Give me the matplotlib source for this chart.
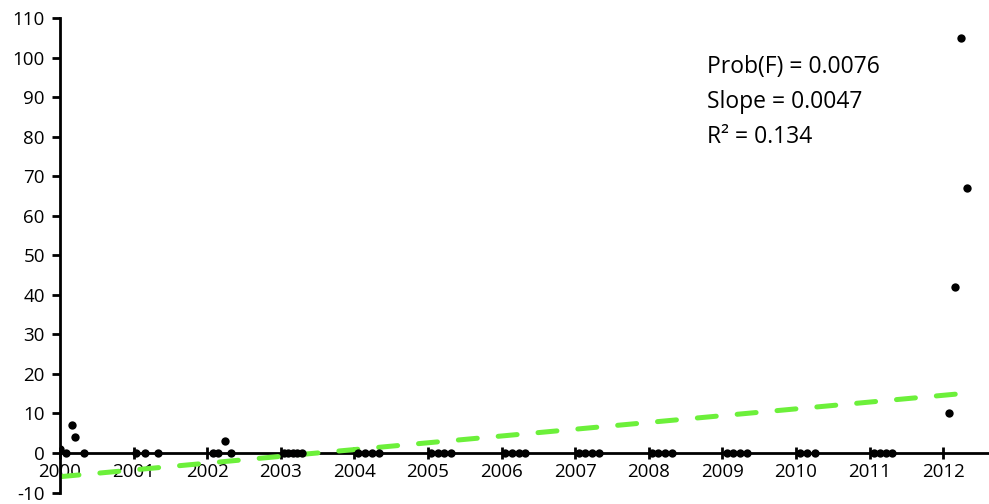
import matplotlib
matplotlib.use("Agg")
import matplotlib.pyplot as plt

# ----- data (decimal years, values) -----
x_2000 = [2000.00, 2000.08, 2000.16, 2000.20, 2000.33]
y_2000 = [1, 0, 7, 4, 0]
x_2001 = [2001.03, 2001.15, 2001.33]
y_2001 = [0, 0, 0]
x_2002 = [2002.08, 2002.15, 2002.24, 2002.32]
y_2002 = [0, 0, 3, 0]
x_2003 = [2003.04, 2003.10, 2003.16, 2003.22, 2003.29]
y_2003 = [0, 0, 0, 0, 0]
x_mid = [2004.05, 2004.14, 2004.24, 2004.33,
         2005.04, 2005.13, 2005.22, 2005.31,
         2006.05, 2006.14, 2006.23, 2006.32,
         2007.05, 2007.14, 2007.23, 2007.32,
         2008.04, 2008.13, 2008.22, 2008.32,
         2009.06, 2009.15, 2009.24, 2009.33,
         2010.06, 2010.15, 2010.26,
         2011.06, 2011.14, 2011.22, 2011.31]
y_mid = [0] * len(x_mid)
x_2012 = [2012.08, 2012.16, 2012.24, 2012.33]
y_2012 = [10, 42, 105, 67]

trend_x = [2000.0, 2012.36]
trend_y = [-6.0, 15.2]

stats = ["Prob(F) = 0.0076", "Slope = 0.0047", "R\u00b2 = 0.134"]
years = list(range(2000, 2013))
yticks = list(range(-10, 111, 10))

plt.rcParams["font.family"] = ["Open Sans", "DejaVu Sans"]
plt.rcParams["axes.unicode_minus"] = False

fig = plt.figure(figsize=(9.89, 5.04), dpi=100)
ax = fig.add_axes([0.0607, 0.0228, 0.9383, 0.9415])

xs = x_2000 + x_2001 + x_2002 + x_2003 + x_mid + x_2012
ys = y_2000 + y_2001 + y_2002 + y_2003 + y_mid + y_2012

ax.plot(trend_x, trend_y, color="#6CF03A", lw=3.6, ls=(0, (3.8, 4.2)),
        dash_capstyle="round", zorder=2)
ax.scatter(xs, ys, s=36, color="black", zorder=3, linewidths=0)

ax.set_xlim(2000, 2012.61)
ax.set_ylim(-10, 110)

for s in ["top", "right"]:
    ax.spines[s].set_visible(False)
ax.spines["bottom"].set_position(("data", 0))
ax.spines["left"].set_position(("data", 2000))
for s in ["bottom", "left"]:
    ax.spines[s].set_linewidth(2)
ax.spines["bottom"].set_zorder(1)

ax.set_xticks(years)
ax.set_xticklabels([str(y) for y in years])
ax.set_yticks(yticks)
ax.tick_params(axis="x", direction="inout", length=9, width=2, labelsize=13.5, pad=3)
ax.tick_params(axis="y", direction="out", length=6, width=2, labelsize=13.5, pad=5)

for i, t in enumerate(stats):
    ax.text(0.697, 0.897 - i * 0.074, t, transform=ax.transAxes,
            fontsize=16.5, ha="left", va="center")

fig.savefig("out.png", dpi=100)
